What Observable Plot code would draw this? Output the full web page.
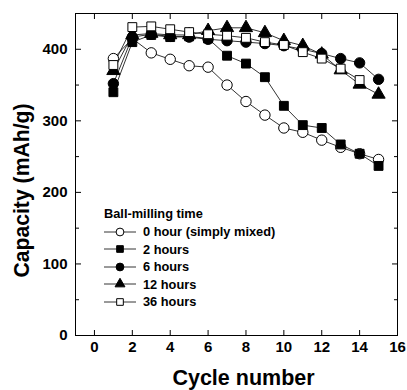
<!DOCTYPE html>
<html>
<head>
<meta charset="utf-8">
<script src="https://cdn.jsdelivr.net/npm/d3@7"></script>
<script src="https://cdn.jsdelivr.net/npm/@observablehq/plot@0.6"></script>
<style>
  body { margin: 0; background: #fff; }
  #wrap { position: relative; width: 407px; height: 390px; font-family: "Liberation Sans", Arial, sans-serif; }
  #legend { position: absolute; left: 104px; top: 205px; font-weight: bold; font-size: 12.8px; color: #000; line-height: 17.5px; }
  #legend .row { display: flex; align-items: center; height: 17.5px; white-space: nowrap; }
  #legend svg { margin-right: 7px; }
</style>
</head>
<body>
<div id="wrap"><div id="chart"></div><div id="legend"></div></div>
<script>
const cycles = [1, 2, 3, 4, 5, 6, 7, 8, 9, 10, 11, 12, 13, 14, 15];
const cap0h  = [387, 415, 395, 386, 377, 375, 350, 327, 308, 290, 284, 273, 263, 254, 246];
const cap2h  = [340, 410, 420, 417, 418, 415, 391, 380, 361, 321, 294, 290, 267, 254, 237];
const cap6h  = [352, 417, 421, 418, 417, 414, 412, 410, 408, 405, 400, 394, 387, 381, 358];
const cap12h = [370, 420, 422, 420, 420, 426, 430, 430, 423, 412, 405, 393, 371, 351, 337];
const cap36h = [378, 431, 432, 428, 424, 421, 419, 416, 410, 406, 396, 387, 373, 357];
const seriesNames = ["0 hour (simply mixed)", "2 hours", "6 hours", "12 hours", "36 hours"];
const xTicks = [0, 2, 4, 6, 8, 10, 12, 14, 16];
const yTicks = [0, 100, 200, 300, 400];
const yMinor = [50, 150, 250, 350, 450];

const styles = [
  {symbol: "circle", fill: "white", r: 5.2},
  {symbol: "square", fill: "black", r: 5},
  {symbol: "circle", fill: "black", r: 5.2},
  {symbol: "triangle", fill: "black", r: 4.9},
  {symbol: "square", fill: "white", r: 5}
];
const allCaps = [cap0h, cap2h, cap6h, cap12h, cap36h];
const series = allCaps.map((caps, i) => caps.map((c, j) => ({cycle: cycles[j], cap: c, name: seriesNames[i]})));

const marks = [];
series.forEach((data, i) => {
  marks.push(Plot.line(data, {x: "cycle", y: "cap", stroke: "black", strokeWidth: 0.8}));
});
series.forEach((data, i) => {
  const s = styles[i];
  marks.push(Plot.dot(data, {x: "cycle", y: "cap", symbol: () => s.symbol, r: s.r, fill: s.fill, stroke: "black", strokeWidth: 1}));
});

const chart = Plot.plot({
  width: 407,
  height: 390,
  marginLeft: 75,
  marginRight: 10,
  marginTop: 13,
  marginBottom: 55,
  style: {fontFamily: "'Liberation Sans', Arial, sans-serif", background: "white"},
  symbol: {type: "identity"},
  x: {domain: [-1, 16]},
  y: {domain: [0, 450]},
  marks: [
    Plot.frame({stroke: "black", strokeWidth: 1}),
    Plot.axisX(xTicks, {anchor: "bottom", tickSize: -5, tickFormat: () => "", label: null}),
    Plot.axisX(xTicks, {anchor: "top", tickSize: -5, tickFormat: () => "", label: null}),
    Plot.axisX(xTicks, {anchor: "bottom", tickSize: 0, tickPadding: 6, fontSize: 15, fontWeight: "bold", fill: "black", label: "Cycle number", labelAnchor: "center", labelArrow: "none", labelOffset: 49}),
    Plot.axisY(yTicks, {anchor: "left", tickSize: -6, tickFormat: () => "", label: null}),
    Plot.axisY(yMinor, {anchor: "left", tickSize: -4, tickFormat: () => "", label: null}),
    Plot.axisY(yTicks, {anchor: "right", tickSize: -6, tickFormat: () => "", label: null}),
    Plot.axisY(yMinor, {anchor: "right", tickSize: -4, tickFormat: () => "", label: null}),
    Plot.axisY(yTicks, {anchor: "left", tickSize: 0, tickPadding: 8, fontSize: 15, fontWeight: "bold", fill: "black", label: "Capacity (mAh/g)", labelAnchor: "center", labelArrow: "none", labelOffset: 62}),
    ...marks
  ]
});
document.getElementById("chart").appendChild(chart);

// style axis titles bigger and nudge to the reference positions
chart.querySelectorAll("g[aria-label='x-axis label'] text").forEach(t => {
  t.setAttribute("font-size", "21.5");
  t.style.fontSize = "21.5px";
  t.setAttribute("transform", (t.getAttribute("transform") || "") + " translate(7,0)");
});
chart.querySelectorAll("g[aria-label='y-axis label'] text").forEach(t => {
  t.setAttribute("font-size", "21.2");
  t.style.fontSize = "21.2px";
  t.setAttribute("transform", (t.getAttribute("transform") || "") + " translate(-16,0)");
});

// legend
const legend = d3.select("#legend");
legend.append("div").attr("class", "row").style("margin-bottom", "0.5px").text("Ball-milling time");
seriesNames.forEach((name, i) => {
  const s = styles[i];
  const row = legend.append("div").attr("class", "row");
  const svg = row.append("svg").attr("width", 32).attr("height", 14);
  svg.append("line").attr("x1", 0).attr("x2", 32).attr("y1", 7).attr("y2", 7).attr("stroke", "black").attr("stroke-width", 0.8);
  const sym = {circle: d3.symbolCircle, square: d3.symbolSquare, triangle: d3.symbolTriangle}[s.symbol];
  const size = (s.r * 0.75) * (s.r * 0.75) * Math.PI;
  svg.append("path").attr("d", d3.symbol(sym, size)()).attr("transform", "translate(16,7)")
    .attr("fill", s.fill).attr("stroke", "black").attr("stroke-width", 1);
  row.append("span").text(name);
});
</script>
</body>
</html>
